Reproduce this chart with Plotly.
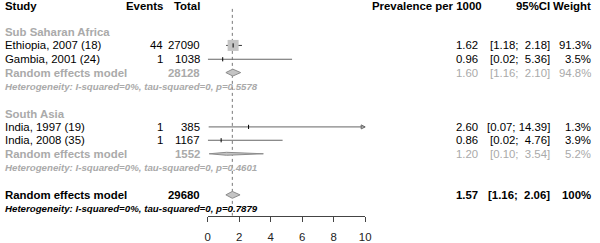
import plotly.graph_objects as go

# ---------------- data ----------------
groups = ["Sub Saharan Africa", "South Asia"]
studies = ["Ethiopia, 2007 (18)", "Gambia, 2001 (24)", "India, 1997 (19)", "India, 2008 (35)"]
study_group = [0, 0, 1, 1]
events = [44, 1, 1, 1]
totals = [27090, 1038, 385, 1167]
prev = [1.62, 0.96, 2.60, 0.86]
lower = [1.18, 0.02, 0.07, 0.02]
upper = [2.18, 5.36, 14.39, 4.76]
weights = [91.3, 3.5, 1.3, 3.9]

sub_total = [28128, 1552]
sub_prev = [1.60, 1.20]
sub_lower = [1.16, 0.10]
sub_upper = [2.10, 3.54]
sub_weight = [94.8, 5.2]
sub_het_p = ["0.5578", "0.4601"]

overall_total = 29680
overall_prev = 1.57
overall_lower = 1.16
overall_upper = 2.06
overall_weight = 100
overall_het_p = "0.7879"

tick_vals = [0, 2, 4, 6, 8, 10]
x_max = 10

# ---------------- layout helpers ----------------
W, H = 600, 243
FONT = "Liberation Sans, Arial, sans-serif"
GRAY = "#aaaaaa"
BLACK = "#000000"
FS = 11.4
FS_HET = 9.7

y_header = 6
y_group = [32.7, 115]
y_study = [46, 60, 128.5, 142]
y_sub = [73.5, 155.7]
y_sub_het = [87.3, 169.3]
y_overall = 197.3
y_overall_het = 210.7
y_axis = 218.3

x_study = 0
x_events = 164
x_total = 202
x_prev = 484
x_ci = 557
x_w = 599

fig = go.Figure()
ann = []


def txt(x, y, s, anchor="left", size=FS, color=BLACK):
    ann.append(dict(x=x / W, y=y, xref="paper", yref="y", text=s, showarrow=False,
                    xanchor=anchor, yanchor="middle",
                    font=dict(family=FONT, size=size, color=color)))


def ci_str(lo, hi):
    hs = f"{hi:.2f}"
    pad = "\u00a0" * (6 - len(hs))
    return f"[{lo:.2f};{pad}{hs}]"


# header
txt(x_study, y_header, "<b>Study</b>")
txt(x_events, y_header, "<b>Events</b>", "right")
txt(x_total, y_header, "<b>Total</b>", "right")
txt(x_prev + 4, y_header, "<b>Prevalence per 1000</b>", "right")
txt(x_ci, y_header, "<b>95%CI</b>", "right")
txt(x_w, y_header, "<b>Weight</b>", "right")

# reference line
fig.add_trace(go.Scatter(x=[overall_prev, overall_prev], y=[9, y_axis], mode="lines",
                         line=dict(color="#777777", width=1, dash="dot"), hoverinfo="skip"))


def diamond(est, lo, hi, y, h):
    fig.add_trace(go.Scatter(x=[lo, est, hi, est, lo], y=[y, y - h, y, y + h, y], mode="lines",
                             fill="toself", fillcolor="#c4c4c4",
                             line=dict(color="#8c8c8c", width=1), hoverinfo="skip"))


for g in range(len(groups)):
    txt(x_study, y_group[g], f"<b>{groups[g]}</b>", color=GRAY)
    for i in range(len(studies)):
        if study_group[i] != g:
            continue
        y = y_study[i]
        txt(x_study, y, studies[i])
        txt(x_events, y, str(events[i]), "right")
        txt(x_total, y, str(totals[i]), "right")
        txt(x_prev, y, f"{prev[i]:.2f}", "right")
        txt(x_ci, y, ci_str(lower[i], upper[i]), "right")
        txt(x_w, y, f"{weights[i]:.1f}%", "right")
        hi = min(upper[i], x_max)
        fig.add_trace(go.Scatter(x=[lower[i], hi], y=[y, y], mode="lines",
                                 line=dict(color="#333333" if i == 0 else "#666666", width=1),
                                 hoverinfo="skip"))
        if upper[i] > x_max:
            fig.add_trace(go.Scatter(x=[x_max], y=[y], mode="markers",
                                     marker=dict(symbol="arrow-right-open", size=4,
                                                 color="#666666", line=dict(width=1, color="#666666")),
                                     cliponaxis=False, hoverinfo="skip"))
        size = 11 * (weights[i] / weights[0]) ** 0.5
        if size > 3:
            fig.add_trace(go.Scatter(x=[prev[i]], y=[y], mode="markers",
                                     marker=dict(symbol="square", size=size, color="#c4c4c4",
                                                 line=dict(width=0)),
                                     cliponaxis=False, hoverinfo="skip"))
        fig.add_trace(go.Scatter(x=[prev[i]], y=[y], mode="markers",
                                 marker=dict(symbol="line-ns", size=3, color=BLACK,
                                             line=dict(width=1, color=BLACK)),
                                 cliponaxis=False, hoverinfo="skip"))
    ys = y_sub[g]
    txt(x_study, ys, "<b>Random effects model</b>", color=GRAY)
    txt(x_total, ys, f"<b>{sub_total[g]}</b>", "right", color=GRAY)
    txt(x_prev, ys, f"{sub_prev[g]:.2f}", "right", color=GRAY)
    txt(x_ci, ys, ci_str(sub_lower[g], sub_upper[g]), "right", color=GRAY)
    txt(x_w, ys, f"{sub_weight[g]:.1f}%", "right", color=GRAY)
    diamond(sub_prev[g], sub_lower[g], sub_upper[g], ys, 3.5 if g == 0 else 1.5)
    txt(x_study, y_sub_het[g],
        f"<b><i>Heterogeneity: I-squared=0%, tau-squared=0, p={sub_het_p[g]}</i></b>",
        size=FS_HET, color=GRAY)

# overall
txt(x_study, y_overall, "<b>Random effects model</b>")
txt(x_total, y_overall, f"<b>{overall_total}</b>", "right")
txt(x_prev, y_overall, f"<b>{overall_prev:.2f}</b>", "right")
txt(x_ci, y_overall, f"<b>{ci_str(overall_lower, overall_upper)}</b>", "right")
txt(x_w, y_overall, f"<b>{overall_weight}%</b>", "right")
diamond(overall_prev, overall_lower, overall_upper, y_overall, 3.5)
txt(x_study, y_overall_het,
    f"<b><i>Heterogeneity: I-squared=0%, tau-squared=0, p={overall_het_p}</i></b>", size=FS_HET)

x0, x1 = 207.7, 367.7
fig.update_layout(
    width=W, height=H, margin=dict(l=0, r=0, t=0, b=0),
    paper_bgcolor="white", plot_bgcolor="white", showlegend=False,
    annotations=ann,
    xaxis=dict(domain=[x0 / W, x1 / W], range=[0, x_max], anchor="free",
               position=1 - y_axis / H, showline=True, linecolor="#444444", linewidth=1,
               ticks="outside", ticklen=5, tickcolor="#444444", tickvals=tick_vals,
               showgrid=False, zeroline=False, ticklabelstandoff=6,
               tickfont=dict(family=FONT, size=FS, color="#222222")),
    yaxis=dict(domain=[0, 1], range=[H, 0], visible=False, showgrid=False, zeroline=False),
)

fig.write_html("out.html", config={"displayModeBar": False},
               post_script="document.body.style.margin='0';document.body.style.overflow='hidden';")
